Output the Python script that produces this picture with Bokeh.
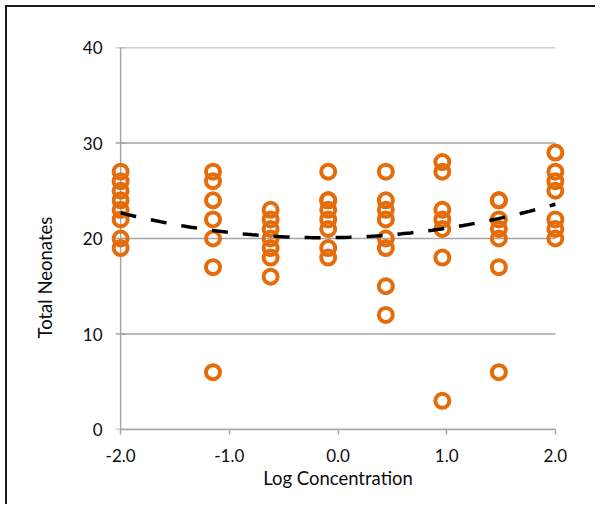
import numpy as np
from bokeh.plotting import figure
from bokeh.models import Range1d, FixedTicker, NumeralTickFormatter, ColumnDataSource, Title
from bokeh.embed import file_html
from bokeh.resources import INLINE

# Data (log concentration groups and total neonates)
x_m2 = [-2.0] * 8
y_m2 = [27, 26, 25, 24, 23, 22, 20, 19]
x_m115 = [-1.15] * 7
y_m115 = [27, 26, 24, 22, 20, 17, 6]
x_m062 = [-0.62] * 7
y_m062 = [23, 22, 21, 20, 19, 18, 16]
x_m009 = [-0.09] * 8
y_m009 = [27, 24, 24, 23, 22, 21, 19, 18]
x_044 = [0.44] * 8
y_044 = [27, 24, 23, 22, 20, 19, 15, 12]
x_096 = [0.96] * 7
y_096 = [28, 27, 23, 22, 21, 18, 3]
x_148 = [1.48] * 7
y_148 = [24, 24, 22, 21, 20, 17, 6]
x_200 = [2.0] * 7
y_200 = [29, 27, 26, 25, 22, 21, 20]

xs = x_m2 + x_m115 + x_m062 + x_m009 + x_044 + x_096 + x_148 + x_200
ys = y_m2 + y_m115 + y_m062 + y_m009 + y_044 + y_096 + y_148 + y_200

x_ticks = [-2, -1, 0, 1, 2]
y_ticks = [0, 10, 20, 30, 40]

# polynomial (order 2) trendline coefficients
trend_coef = [0.76, 0.225, 20.1]
tx = np.linspace(min(xs), max(xs), 100)
ty = np.polyval(trend_coef, tx)

FONT = "Lato"
TXT = "#0d0d0d"
GRID = "#a6a6a6"
ORANGE = "#E46C0A"

x_pad = 0.13
p = figure(width=590, height=499, output_backend="svg", toolbar_location=None,
           x_range=Range1d(x_ticks[0] - x_pad, x_ticks[-1] + x_pad),
           y_range=Range1d(y_ticks[0], y_ticks[-1]))
p.min_border_left = 99
p.min_border_right = 28
p.min_border_top = 40
p.min_border_bottom = 77
p.outline_line_color = None
p.background_fill_color = "white"
p.border_fill_color = "white"
p.styles = {"margin-left": "5px", "margin-top": "5px",
            "border-left": "2px solid #1a1a1a", "border-top": "2px solid #1a1a1a"}

p.xgrid.visible = False
p.ygrid.visible = False

n = len(y_ticks)
# horizontal gridlines spanning the x axis extent
p.segment(x0=[x_ticks[0]] * n, x1=[x_ticks[-1]] * n, y0=y_ticks, y1=y_ticks,
          line_color=GRID, line_width=1.5)
# vertical axis line at the first x tick, with outward tick marks
p.segment(x0=[x_ticks[0]], x1=[x_ticks[0]], y0=[y_ticks[0]], y1=[y_ticks[-1]],
          line_color=GRID, line_width=1.5)
p.scatter(x=[x_ticks[0]] * n, y=y_ticks, marker="dash", size=10,
          line_color=GRID, line_width=1.5)

p.xaxis.ticker = FixedTicker(ticks=x_ticks)
p.xaxis.formatter = NumeralTickFormatter(format="0.0")
p.xaxis.bounds = (x_ticks[0], x_ticks[-1])
p.yaxis.ticker = FixedTicker(ticks=y_ticks)
for ax in (p.xaxis[0], p.yaxis[0]):
    ax.axis_line_color = GRID
    ax.axis_line_width = 1.5
    ax.major_tick_line_color = GRID
    ax.major_tick_line_width = 1.5
    ax.major_tick_in = 0
    ax.major_tick_out = 5
    ax.minor_tick_line_color = None
    ax.major_label_text_font = FONT
    ax.major_label_text_font_size = "17px"
    ax.major_label_text_color = TXT
    ax.axis_label_text_font = FONT
    ax.axis_label_text_font_size = "18.5px"
    ax.axis_label_text_font_style = "normal"
    ax.axis_label_text_color = TXT
p.yaxis.axis_line_color = None
p.yaxis.major_tick_line_color = None
p.yaxis.major_tick_out = 0

p.xaxis.axis_label = "Log Concentration"
p.xaxis.major_label_standoff = 14
p.xaxis.axis_label_standoff = 2
p.yaxis.major_label_standoff = 4

ytitle = Title(text="Total Neonates", align="left", offset=91, standoff=48,
               text_font=FONT, text_font_size="18.5px", text_font_style="normal",
               text_color=TXT)
p.add_layout(ytitle, "left")

src = ColumnDataSource(data=dict(x=xs, y=ys))
p.scatter("x", "y", source=src, size=14, fill_color=None, line_color=ORANGE, line_width=4)
p.line(tx, ty, line_color="black", line_width=3.5, line_dash="16 15")

open("out.html", "w").write(file_html(p, INLINE))
